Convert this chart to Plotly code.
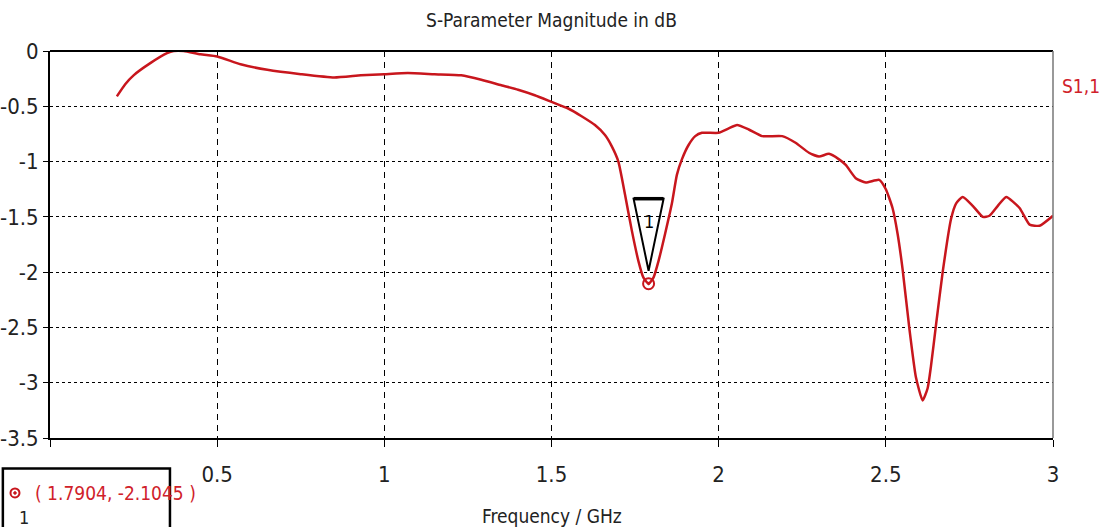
import plotly.graph_objects as go

# S1,1 magnitude (dB) versus frequency (GHz)
freq_ghz = [0.20, 0.225, 0.25, 0.30, 0.35, 0.37, 0.40, 0.45, 0.50, 0.57, 0.65, 0.75, 0.85, 0.93,
            1.00, 1.07, 1.15, 1.23, 1.29, 1.35, 1.40, 1.45, 1.50, 1.55, 1.59, 1.63, 1.66,
            1.68, 1.70, 1.72, 1.74, 1.76, 1.775, 1.7904, 1.805, 1.82, 1.84, 1.86, 1.875,
            1.89, 1.91, 1.93, 1.95, 2.00, 2.03, 2.055, 2.09, 2.13, 2.19, 2.23, 2.27, 2.30,
            2.33, 2.36, 2.38, 2.41, 2.44, 2.48, 2.50, 2.52, 2.535, 2.55, 2.57, 2.59, 2.61,
            2.625, 2.635, 2.65, 2.67, 2.695, 2.71, 2.73, 2.76, 2.79, 2.81, 2.835, 2.86,
            2.90, 2.93, 2.96, 3.00]
s11_db = [-0.41, -0.30, -0.22, -0.11, -0.02, 0.0, 0.0, -0.03, -0.05, -0.12, -0.17, -0.21, -0.24, -0.22,
          -0.21, -0.20, -0.21, -0.22, -0.26, -0.31, -0.35, -0.40, -0.46, -0.52, -0.59, -0.67, -0.76,
          -0.86, -1.00, -1.30, -1.62, -1.90, -2.05, -2.1045, -2.05, -1.90, -1.65, -1.38, -1.12,
          -0.98, -0.85, -0.77, -0.74, -0.74, -0.70, -0.67, -0.71, -0.77, -0.77, -0.83, -0.92, -0.955,
          -0.93, -0.98, -1.03, -1.15, -1.19, -1.165, -1.25, -1.42, -1.65, -1.97, -2.50, -2.95, -3.16,
          -3.05, -2.85, -2.48, -2.00, -1.52, -1.38, -1.32, -1.40, -1.50, -1.49, -1.40, -1.32,
          -1.42, -1.57, -1.58, -1.49]

# Marker 1
marker_f = 1.7904
marker_db = -2.1045

# the 0 GHz label sits under the marker readout box, so it is left blank
x_ticks = [0, 0.5, 1, 1.5, 2, 2.5, 3]
x_tick_text = ["", "0.5", "1", "1.5", "2", "2.5", "3"]
y_ticks = [0, -0.5, -1, -1.5, -2, -2.5, -3, -3.5]
y_tick_text = ["0", "-0.5", "-1", "-1.5", "-2", "-2.5", "-3", "-3.5"]

FONT = "Liberation Sans Narrow, DejaVu Sans Condensed, Liberation Sans, Arial, sans-serif"
RED = "#c8161d"
TEXT_RED = "#d0212a"
INK = "#222222"

fig = go.Figure()

fig.add_trace(go.Scatter(
    x=freq_ghz, y=s11_db, mode="lines",
    line=dict(color=RED, width=2.5, shape="spline", smoothing=0.5),
    hoverinfo="x+y", showlegend=False,
))

fig.add_trace(go.Scatter(
    x=[marker_f], y=[marker_db], mode="markers",
    marker=dict(symbol="circle-open-dot", size=11, color=RED, line=dict(color=RED, width=2)),
    showlegend=False, cliponaxis=False,
))

shapes = []
# marker flag: inverted triangle resting on the marker point
shapes.append(dict(
    type="path", xref="x", yref="y", xsizemode="pixel", ysizemode="pixel",
    xanchor=marker_f, yanchor=marker_db,
    path="M 0 13 L -15 85 L 15 85 Z",
    line=dict(color="black", width=2), fillcolor="rgba(0,0,0,0)",
))
shapes.append(dict(
    type="line", xref="x", yref="y", xsizemode="pixel", ysizemode="pixel",
    xanchor=marker_f, yanchor=marker_db,
    x0=-15, x1=15, y0=85, y1=85,
    line=dict(color="black", width=3.5),
))
# top and right frame lines
shapes.append(dict(type="line", xref="paper", yref="paper", x0=0, x1=1, y0=1, y1=1,
                   line=dict(color="black", width=2)))
shapes.append(dict(type="line", xref="paper", yref="paper", x0=1, x1=1, y0=0, y1=1,
                   line=dict(color="#777777", width=1.5)))
# marker readout box
shapes.append(dict(type="rect", xref="paper", yref="paper",
                   x0=-0.047, x1=0.1196, y0=-0.079, y1=-0.26,
                   line=dict(color="black", width=2.5), fillcolor="white", layer="above"))
# readout icon
shapes.append(dict(type="circle", xref="paper", yref="paper", xsizemode="pixel", ysizemode="pixel",
                   xanchor=-0.0349, yanchor=-0.142, x0=-4.5, x1=4.5, y0=-4.5, y1=4.5,
                   line=dict(color=RED, width=2), fillcolor="white", layer="above"))
shapes.append(dict(type="circle", xref="paper", yref="paper", xsizemode="pixel", ysizemode="pixel",
                   xanchor=-0.0349, yanchor=-0.142, x0=-1.3, x1=1.3, y0=-1.3, y1=1.3,
                   line=dict(color=RED, width=1), fillcolor=RED, layer="above"))

annotations = [
    dict(text="1", x=marker_f, y=marker_db, xref="x", yref="y", yshift=62, showarrow=False,
         font=dict(family=FONT, size=18, color="black")),
    dict(text="S1,1", x=1.007, y=0.9106, xref="paper", yref="paper", xanchor="left",
         yanchor="middle", showarrow=False, font=dict(family=FONT, size=19, color=TEXT_RED)),
    dict(text="Frequency / GHz", x=0.5, y=-0.2008, xref="paper", yref="paper",
         yanchor="middle", showarrow=False, font=dict(family=FONT, size=19, color=INK)),
    dict(text=f"( {marker_f:.4f}, {marker_db:.4f} )", x=-0.017, y=-0.142, xref="paper",
         yref="paper", xanchor="left", yanchor="middle", showarrow=False,
         font=dict(family=FONT, size=19, color=TEXT_RED)),
    dict(text="1", x=-0.033, y=-0.205, xref="paper", yref="paper", yanchor="middle",
         showarrow=False, font=dict(family=FONT, size=18, color=INK)),
]

fig.update_layout(
    width=1106, height=527,
    margin=dict(l=50, r=53, t=51, b=89, pad=0),
    paper_bgcolor="white", plot_bgcolor="white",
    title=dict(text="S-Parameter Magnitude in dB", x=0.5, xref="paper", y=1 - 20 / 527,
               yanchor="middle", font=dict(family=FONT, size=19, color=INK)),
    shapes=shapes, annotations=annotations,
    xaxis=dict(range=[0, 3], tickvals=x_ticks, ticktext=x_tick_text,
               showgrid=True, gridcolor="black", gridwidth=1, griddash="6px,5px",
               showline=True, linecolor="black", linewidth=2,
               ticks="outside", ticklen=7, tickcolor="black", tickwidth=1,
               ticklabelstandoff=9, automargin=False,
               tickfont=dict(family=FONT, size=22, color=INK),
               zeroline=False, fixedrange=True),
    yaxis=dict(range=[-3.5, 0], tickvals=y_ticks, ticktext=y_tick_text,
               showgrid=True, gridcolor="black", gridwidth=1, griddash="3px,3px",
               showline=True, linecolor="black", linewidth=2,
               ticks="outside", ticklen=5, tickcolor="black", tickwidth=1,
               automargin=False,
               tickfont=dict(family=FONT, size=22, color=INK),
               zeroline=False, fixedrange=True),
)

fig.write_html("out.html")
